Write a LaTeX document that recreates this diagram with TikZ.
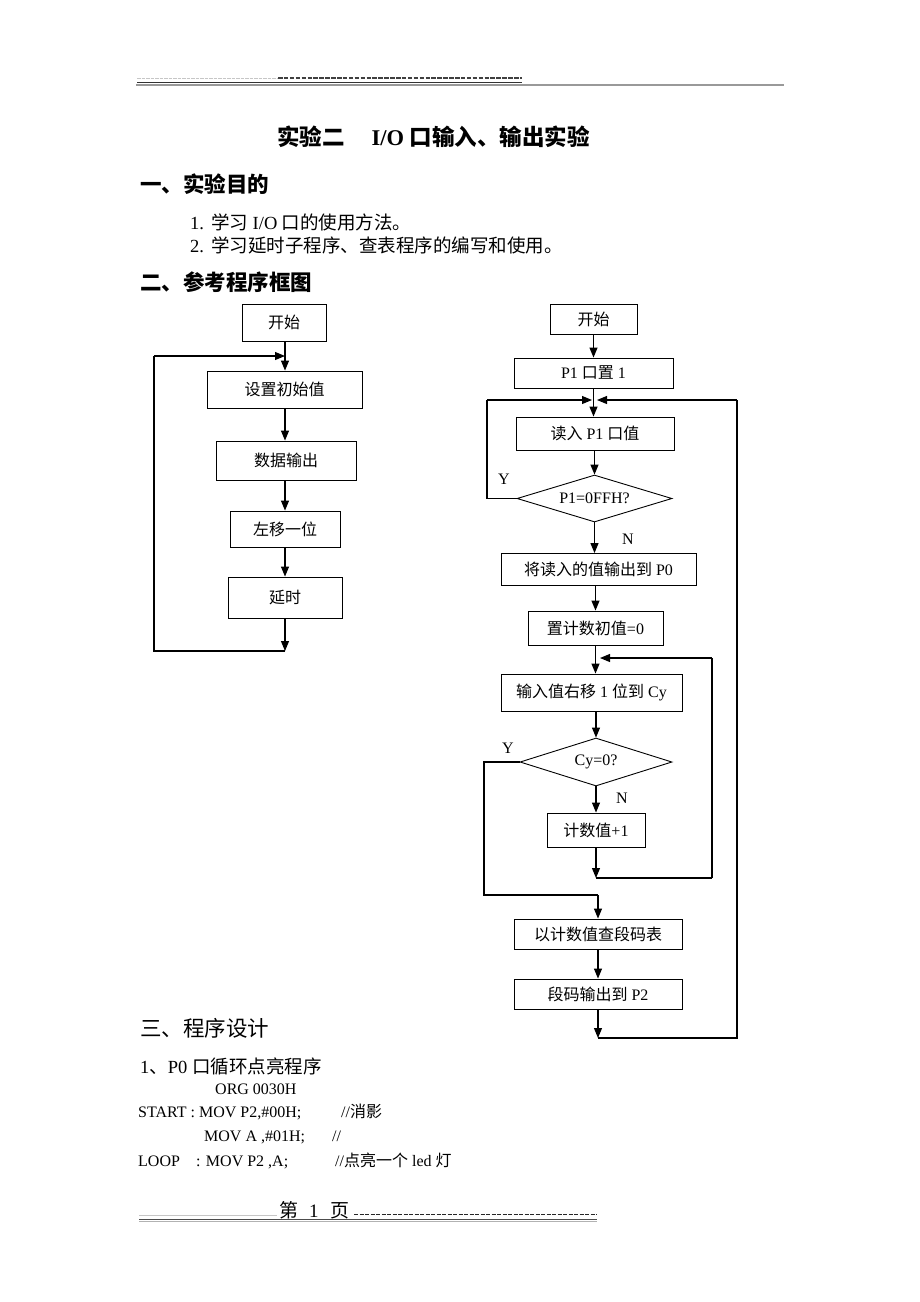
\documentclass[tikz,border=0pt]{standalone}
\usepackage{fontspec}
\setmainfont{Liberation Serif}
\newfontfamily\cjk{Noto Sans CJK SC}
\usetikzlibrary{arrows.meta,shapes.geometric}
\newcommand\zh[1]{{\cjk #1}}
\newcommand\fsz[1]{\fontsize{#1}{#1}\selectfont}
\tikzset{
  box/.style={draw, line width=0.9pt, inner sep=0pt, font=\fsz{16}},
  dia/.style={draw, diamond, aspect=3.2, line width=0.9pt, inner sep=0pt, font=\fsz{16}},
  arr/.style={line width=1.1pt, -{Triangle[length=10pt,width=8pt]}},
  ln/.style={line width=1.1pt},
  lab/.style={inner sep=0pt, anchor=base west},
  yn/.style={inner sep=0pt, font=\fsz{16}},
}
\begin{document}
\begin{tikzpicture}[x=1pt,y=-1pt]
\useasboundingbox (0,0) rectangle (920,1302);
\fill[white] (0,0) rectangle (920,1302);

% header
\coordinate (h1) at (137,78); \coordinate (h2) at (278,78); \coordinate (h3) at (522,78);
\draw[gray!45, line width=1pt, dash pattern=on 3.5pt off 1pt] (h1) -- (h2);
\draw[black!75, line width=1.4pt, dash pattern=on 4.5pt off 1.4pt] (h2) -- (h3);
\coordinate (h4) at (137,82.5); \coordinate (h5) at (522,82.5);
\coordinate (h6) at (136,85); \coordinate (h7) at (784,85);
\draw[black!80, line width=0.9pt] (h4) -- (h5);
\draw[gray!80, line width=1.1pt] (h6) -- (h7);

% title and headings
\node[lab, font=\fsz{22.5}\bfseries] (title) at (277,145.5) {\zh{实验二}\hspace{27pt}I/O \zh{口输入、输出实验}};
\node[lab, font=\fsz{21.5}\bfseries] (sec1) at (140,192) {\zh{一、实验目的}};
\node[lab, font=\fsz{18.5}] (it1) at (190,229) {1.\hspace{7pt}\zh{学习} I/O \zh{口的使用方法。}};
\node[lab, font=\fsz{18.5}] (it2) at (190,252) {2.\hspace{7pt}\zh{学习延时子程序、查表程序的编写和使用。}};
\node[lab, font=\fsz{21.5}\bfseries] (sec2) at (140,290) {\zh{二、参考程序框图}};

% left flowchart
\node[box, minimum width=84, minimum height=37] (L1) at (284,322.5) {\zh{开始}};
\node[box, minimum width=155, minimum height=37] (L2) at (284.5,389.5) {\zh{设置初始值}};
\node[box, minimum width=140, minimum height=39] (L3) at (286,460.5) {\zh{数据输出}};
\node[box, minimum width=110, minimum height=36] (L4) at (285,529) {\zh{左移一位}};
\node[box, minimum width=114, minimum height=41] (L5) at (285,597.5) {\zh{延时}};
\coordinate (lb) at (285,651); \coordinate (lbl) at (154,651);
\coordinate (ltl) at (154,356); \coordinate (lm) at (285,356);
\draw[arr] (L1.south -| lm) -- (L2.north -| lm);
\draw[arr] (L2.south -| lm) -- (L3.north -| lm);
\draw[arr] (L3.south -| lm) -- (L4.north -| lm);
\draw[arr] (L4.south -| lm) -- (L5.north -| lm);
\draw[arr] (L5.south -| lm) -- (lb);
\draw[ln] (lb) -- (lbl) -- (ltl);
\draw[arr] (ltl) -- (lm);

% right flowchart
\node[box, minimum width=87, minimum height=30] (R1) at (593.5,319) {\zh{开始}};
\node[box, minimum width=159, minimum height=30] (R2) at (593.5,373) {P1 \zh{口置} 1};
\node[box, minimum width=158, minimum height=33] (R3) at (595,433.5) {\zh{读入} P1 \zh{口值}};
\node[dia, minimum width=155, minimum height=47] (D1) at (594.5,498.5) {P1=0FFH?};
\node[box, minimum width=195, minimum height=32] (R4) at (598.5,569.5) {\zh{将读入的值输出到} P0};
\node[box, minimum width=135, minimum height=34] (R5) at (595.5,628) {\zh{置计数初值}=0};
\node[box, minimum width=181, minimum height=37] (R6) at (591.5,692.5) {\zh{输入值右移} 1 \zh{位到} Cy};
\node[dia, minimum width=152, minimum height=48] (D2) at (596,762) {Cy=0?};
\node[box, minimum width=98, minimum height=34] (R7) at (596,830) {\zh{计数值}+1};
\node[box, minimum width=168, minimum height=30] (R8) at (598,934) {\zh{以计数值查段码表}};
\node[box, minimum width=168, minimum height=30] (R9) at (598,994) {\zh{段码输出到} P2};

\node[yn] (y1) at (504,479) {Y};
\node[yn] (n1) at (628,539) {N};
\node[yn] (y2) at (508,748) {Y};
\node[yn] (n2) at (622,798) {N};

\coordinate (mal) at (592,400);
\coordinate (mar) at (597,400);
\coordinate (ya) at (487,498.5); \coordinate (yb) at (487,400);
\coordinate (ra) at (737,400); \coordinate (rb) at (737,1038); \coordinate (rc) at (598,1038);
\coordinate (mb) at (600,658); \coordinate (mbr) at (712,658);
\coordinate (cb) at (596,878); \coordinate (cbr) at (712,878);
\coordinate (za) at (484,762); \coordinate (zb) at (484,895); \coordinate (zc) at (598,895);

\draw[arr] (R1.south) -- (R1.south |- R2.north);
\draw[arr] (R2.south) -- (R2.south |- R3.north);
\draw[ln] (D1.west) -- (ya) -- (yb);
\draw[arr] (yb) -- (mal);
\draw[ln] (rc) -- (rb) -- (ra);
\draw[arr] (ra) -- (mar);
\draw[arr] (D1.north |- R3.south) -- (D1.north);
\draw[arr] (D1.south) -- (D1.south |- R4.north);
\draw[arr] (R5.south |- R4.south) -- (R5.north);
\draw[arr] (R5.south) -- (R5.south |- R6.north);
\draw[ln] (cbr) -- (mbr);
\draw[arr] (mbr) -- (mb);
\draw[arr] (D2.north |- R6.south) -- (D2.north);
\draw[arr] (D2.south) -- (D2.south |- R7.north);
\draw[arr] (R7.south) -- (cb);
\draw[ln] (cb) -- (cbr);
\draw[ln] (D2.west) -- (za) -- (zb) -- (zc);
\draw[arr] (zc) -- (R8.north);
\draw[arr] (R8.south) -- (R9.north);
\draw[arr] (R9.south) -- (rc);

% section three
\node[lab, font=\fsz{21.5}] (sec3) at (140,1036) {\zh{三、程序设计}};
\node[lab, font=\fsz{18.5}] (sub1) at (140,1073) {1\zh{、}P0 \zh{口循环点亮程序}};
\node[lab, font=\fsz{16}] (c1) at (215,1094.5) {ORG 0030H};
\node[lab, font=\fsz{16}] (c2) at (138,1117.5) {START : MOV P2,\#00H;};
\node[lab, font=\fsz{16}] (c2c) at (341,1117.5) {//\zh{消影}};
\node[lab, font=\fsz{16}] (c3) at (204,1141.5) {MOV A ,\#01H;};
\node[lab, font=\fsz{16}] (c3c) at (332,1141.5) {//};
\node[lab, font=\fsz{16}] (c4) at (138,1166.5) {LOOP};
\node[lab, font=\fsz{16}] (c4b) at (196,1166.5) {: MOV P2 ,A;};
\node[lab, font=\fsz{16}] (c4c) at (335,1166.5) {//\zh{点亮一个} led \zh{灯}};

% footer
\node[lab, font=\fsz{19}] (foot) at (279,1217) {\zh{第}\hspace{11pt}1\hspace{12pt}\zh{页}};
\coordinate (f1) at (139,1215); \coordinate (f2) at (277,1215);
\coordinate (f3) at (354,1214.5); \coordinate (f4) at (597,1214.5);
\draw[gray!45, line width=0.8pt] (f1) -- (f2);
\draw[black!85, line width=1.4pt, dash pattern=on 4.2pt off 1.3pt] (f3) -- (f4);
\coordinate (f5) at (139,1219.5); \coordinate (f6) at (597,1219.5);
\coordinate (f7) at (139,1221.5); \coordinate (f8) at (597,1221.5);
\draw[black!70, line width=0.8pt] (f5) -- (f6);
\draw[gray!60, line width=0.9pt] (f7) -- (f8);
\end{tikzpicture}
\end{document}
